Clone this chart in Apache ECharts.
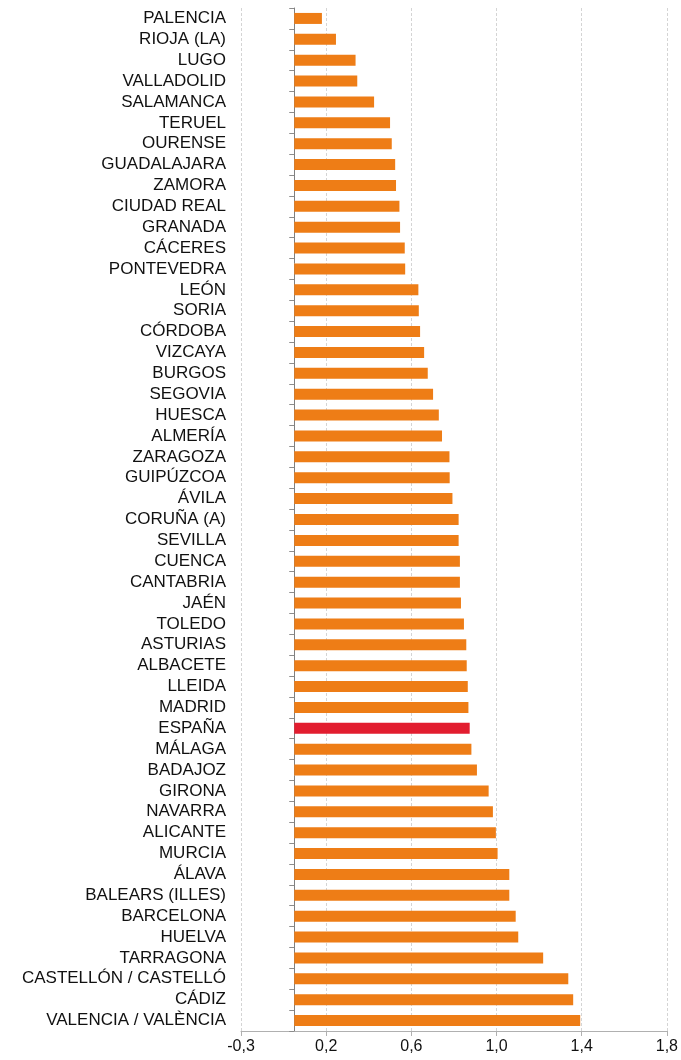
<!DOCTYPE html>
<html>
<head>
<meta charset="utf-8">
<script src="https://cdn.jsdelivr.net/npm/echarts@6/dist/echarts.min.js"></script>
<style>
  html, body { margin: 0; padding: 0; background: #fff; }
  #chart { width: 681px; height: 1060px; }
</style>
</head>
<body>
<div id="chart"></div>
<script>
const provinces = [
  'PALENCIA', 'RIOJA (LA)', 'LUGO', 'VALLADOLID', 'SALAMANCA', 'TERUEL', 'OURENSE',
  'GUADALAJARA', 'ZAMORA', 'CIUDAD REAL', 'GRANADA', 'CÁCERES', 'PONTEVEDRA', 'LEÓN',
  'SORIA', 'CÓRDOBA', 'VIZCAYA', 'BURGOS', 'SEGOVIA', 'HUESCA', 'ALMERÍA', 'ZARAGOZA',
  'GUIPÚZCOA', 'ÁVILA', 'CORUÑA (A)', 'SEVILLA', 'CUENCA', 'CANTABRIA', 'JAÉN', 'TOLEDO',
  'ASTURIAS', 'ALBACETE', 'LLEIDA', 'MADRID', 'ESPAÑA', 'MÁLAGA', 'BADAJOZ', 'GIRONA',
  'NAVARRA', 'ALICANTE', 'MURCIA', 'ÁLAVA', 'BALEARS (ILLES)', 'BARCELONA', 'HUELVA',
  'TARRAGONA', 'CASTELLÓN / CASTELLÓ', 'CÁDIZ', 'VALENCIA / VALÈNCIA'
]
const values = [
  0.13, 0.196, 0.288, 0.296, 0.375, 0.45, 0.458,
  0.474, 0.478, 0.494, 0.497, 0.519, 0.521, 0.583,
  0.585, 0.591, 0.61, 0.627, 0.652, 0.679, 0.694, 0.729,
  0.73, 0.743, 0.772, 0.772, 0.778, 0.778, 0.783, 0.797,
  0.808, 0.81, 0.815, 0.818, 0.824, 0.832, 0.858, 0.913,
  0.933, 0.947, 0.955, 1.01, 1.01, 1.04, 1.052,
  1.169, 1.287, 1.31, 1.343
]
const highlight = 'ESPAÑA'
const xTickLabels = ['-0,3', '0,2', '0,6', '1,0', '1,4', '1,8']

const chart = echarts.init(document.getElementById('chart'))

const option = {
  animation: false,
  textStyle: { fontFamily: 'Liberation Sans, Arial, sans-serif' },
  grid: { left: 241, right: 14, top: 8, bottom: 29, containLabel: false },
  xAxis: {
    type: 'value',
    min: -0.25,
    max: 1.75,
    interval: 0.4,
    axisLine: { show: true, lineStyle: { color: '#b0b0b0', width: 1 } },
    axisTick: { show: true, length: 5, lineStyle: { color: '#b0b0b0' } },
    axisLabel: {
      color: '#111',
      fontSize: 16,
      margin: 8,
      formatter: (v, i) => xTickLabels[i]
    },
    splitLine: { show: true, lineStyle: { color: '#d4d4d4', type: [3, 2] } }
  },
  yAxis: [
    {
      type: 'category',
      data: provinces,
      inverse: true,
      axisLine: { show: false, onZero: false },
      axisTick: { show: false },
      axisLabel: { color: '#111', fontSize: 17, margin: 15, interval: 0 }
    },
    {
      // zero line with ticks between the bars
      type: 'category',
      data: provinces,
      inverse: true,
      position: 'left',
      axisLine: { show: true, onZero: true, lineStyle: { color: '#7f7f7f', width: 1 } },
      axisTick: { show: true, length: 5, interval: 0, lineStyle: { color: '#8c8c8c' } },
      axisLabel: { show: false }
    }
  ],
  series: [
    {
      type: 'bar',
      yAxisIndex: 0,
      barWidth: 11,
      data: values.map((v, i) => ({
        value: v,
        itemStyle: { color: provinces[i] === highlight ? '#e21d2f' : '#ee7d16' }
      }))
    }
  ]
}
chart.setOption(option)
</script>
</body>
</html>
